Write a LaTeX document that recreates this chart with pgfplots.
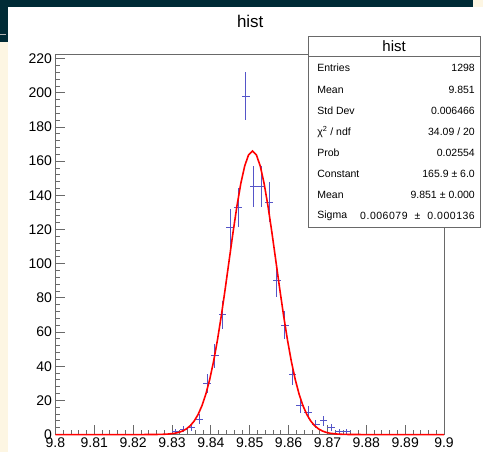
\documentclass[border=0pt]{standalone}
\usepackage{fontspec}
\setmainfont{Liberation Sans}
\usepackage{pgfplots}
\pgfplotsset{compat=1.18}
\definecolor{rootblue}{RGB}{85,85,200}
\definecolor{darkbg}{HTML}{002B36}
\definecolor{creambg}{HTML}{FDF6E3}
\definecolor{framegray}{RGB}{105,105,105}

\begin{document}
\begin{tikzpicture}[x=1pt,y=1pt]
% canvas and window background
\fill[creambg] (0,0) rectangle (483,452);
\fill[darkbg] (0,445) rectangle (473,452);
\fill[darkbg] (0,410) rectangle (8,452);
\fill[white] (8,0) rectangle (483,445);
\draw[gray!60, line width=1pt] (0,417) -- (6,417);
\node[font=\fontsize{17}{20}\selectfont] at (250,431) {hist};

\begin{axis}[
    at={(55pt,17pt)}, anchor=south west,
    scale only axis, width=389pt, height=381pt,
    xmin=9.8, xmax=9.9, ymin=0, ymax=222.7,
    xtick={9.8,9.81,9.82,9.83,9.84,9.85,9.86,9.87,9.88,9.89,9.9},
    xticklabels={9.8,9.81,9.82,9.83,9.84,9.85,9.86,9.87,9.88,9.89,9.9},
    ytick={0,20,40,60,80,100,120,140,160,180,200,220},
    yticklabels={0,20,40,60,80,100,120,140,160,180,200,220},
    minor x tick num=4, minor y tick num=4,
    tick align=inside, xtick pos=lower, ytick pos=left,
    major tick length=10pt, minor tick length=5pt,
    tick style={framegray, line width=0.8pt},
    axis line style={framegray, line width=0.8pt},
    ticklabel style={font=\fontsize{14}{16}\selectfont},
    clip=false,
]
% histogram bins with Poisson errors
\addplot[draw=none, mark=none,
    error bars/.cd, x dir=both, x explicit, y dir=both, y explicit,
    error mark=none, error bar style={draw=rootblue, solid, line width=1pt}]
coordinates {
(9.831,2) +- (0.001,1.41)
(9.833,3) +- (0.001,1.73)
(9.835,4) +- (0.001,2.00)
(9.837,9) +- (0.001,3.00)
(9.839,30) +- (0.001,5.48)
(9.841,46) +- (0.001,6.78)
(9.843,70) +- (0.001,8.37)
(9.845,121) +- (0.001,11.00)
(9.847,133) +- (0.001,11.53)
(9.849,198) +- (0.001,14.07)
(9.851,145) +- (0.001,12.04)
(9.853,145) +- (0.001,12.04)
(9.855,136) +- (0.001,11.66)
(9.857,90) +- (0.001,9.49)
(9.859,64) +- (0.001,8.00)
(9.861,35) +- (0.001,5.92)
(9.863,17) +- (0.001,4.12)
(9.865,13) +- (0.001,3.61)
(9.867,6) +- (0.001,2.45)
(9.869,8) +- (0.001,2.83)
(9.871,4) +- (0.001,2.00)
(9.873,2) +- (0.001,1.41)
(9.875,2) +- (0.001,1.41)
};
% gaussian fit
\addplot[red, line width=1.6pt, mark=none] coordinates {
(9.8,0) (9.8227,0.0) (9.8247,0.02) (9.8267,0.07) (9.8287,0.24) (9.8307,0.74)
(9.8317,1.25) (9.8327,2.07) (9.8337,3.32) (9.8347,5.20) (9.8357,7.90)
(9.8367,11.70) (9.8377,16.86) (9.8387,23.64) (9.8397,32.28) (9.8407,42.88)
(9.8417,55.45) (9.8427,69.79) (9.8437,85.49) (9.8447,101.93) (9.8457,118.29)
(9.8467,133.61) (9.8477,146.88) (9.8487,157.16) (9.8497,163.67) (9.8507,165.9)
(9.8517,163.67) (9.8527,157.16) (9.8537,146.88) (9.8547,133.61) (9.8557,118.29)
(9.8567,101.93) (9.8577,85.49) (9.8587,69.79) (9.8597,55.45) (9.8607,42.88)
(9.8617,32.28) (9.8627,23.64) (9.8637,16.86) (9.8647,11.70) (9.8657,7.90)
(9.8667,5.20) (9.8677,3.32) (9.8687,2.07) (9.8697,1.25) (9.8707,0.74)
(9.8727,0.24) (9.8747,0.07) (9.8767,0.02) (9.8787,0.0) (9.9,0)
};
\end{axis}

% statistics box
\filldraw[fill=white, draw=framegray, line width=0.8pt] (308,224) rectangle (480,416);
\draw[framegray, line width=0.8pt] (308,396) -- (480,396);
\node[font=\fontsize{15}{18}\selectfont] at (394,406) {hist};
\begin{scope}[every node/.style={font=\fontsize{10.5}{12}\selectfont, inner sep=0pt}]
\node[anchor=west] at (317,384) {Entries};   \node[anchor=east] at (475,384) {1298};
\node[anchor=west] at (317,362) {Mean};      \node[anchor=east] at (475,362) {9.851};
\node[anchor=west] at (317,341) {Std Dev};   \node[anchor=east] at (475,341) {0.006466};
\node[anchor=west] at (317,320) {χ\textsuperscript{2} / ndf}; \node[anchor=east] at (475,320) {34.09 / 20};
\node[anchor=west] at (317,299) {Prob};      \node[anchor=east] at (475,299) {0.02554};
\node[anchor=west] at (317,278) {Constant};  \node[anchor=east] at (475,278) {165.9 ± 6.0};
\node[anchor=west] at (317,257) {Mean};      \node[anchor=east] at (475,257) {9.851\hspace{3pt}±\hspace{3pt}0.000};
\node[anchor=west] at (317,236) {Sigma};     \node[anchor=east] at (475,236) {\addfontfeatures{LetterSpace=5}0.006079\hspace{7pt}±\hspace{7pt}0.000136};
\end{scope}
\end{tikzpicture}
\end{document}
